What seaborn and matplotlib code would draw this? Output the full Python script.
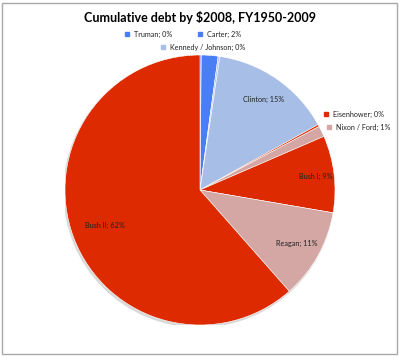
import numpy as np
import matplotlib
matplotlib.use("Agg")
import matplotlib.pyplot as plt
import seaborn as sns
from matplotlib.patches import Rectangle

# share of cumulative debt (in $2008), clockwise from 12 o'clock
presidents = ["Truman", "Carter", "Kennedy / Johnson", "Clinton", "Eisenhower",
              "Nixon / Ford", "Bush I", "Reagan", "Bush II"]
shares = [0.15, 2.0, 0.2, 14.6, 0.25, 1.3, 9.2, 10.8, 61.5]
pct_labels = ["0%", "2%", "0%", "15%", "0%", "1%", "9%", "11%", "62%"]
slice_colors = ["#4a7ef5", "#4a7ef5", "#a7bfe6", "#a7bfe6", "#dd2a00",
                "#d4a6a4", "#dd2a00", "#d4a6a4", "#dd2a00"]

sns.set_theme(style="white")
plt.rcParams["font.family"] = ["Lato", "DejaVu Sans"]

fig = plt.figure(figsize=(4.0, 3.56), dpi=100)
fig.patch.set_facecolor("white")

# pie centre at about (200, 190) px, radius ~135 px
r_px = 135
ax = fig.add_axes([(200 - r_px) / 400, (166 - r_px) / 356, 2 * r_px / 400, 2 * r_px / 356])

# faint shadow under the pie (bottom-left)
shadow = plt.Circle((-0.008, -0.014), 1.0, color="#d9d9d9", zorder=0)
ax.add_patch(shadow)

wedges, _ = ax.pie(shares, colors=slice_colors, startangle=90, counterclock=False,
                   radius=1.0, wedgeprops=dict(edgecolor="white", linewidth=0.4),
                   frame=False)
for w in wedges:
    w.set_zorder(1)

# pie() resets limits to +-1.25, put them back so radius 1 fills the axes
ax.set_xlim(-1, 1)
ax.set_ylim(-1, 1)
ax.axis("off")

font_small = 5.2

# labels inside the big slices
inside = {"Clinton": 0.82, "Bush I": 0.86, "Reagan": 0.82, "Bush II": 0.75}
for w, name, pct in zip(wedges, presidents, pct_labels):
    if name in inside:
        mid = np.deg2rad((w.theta1 + w.theta2) / 2)
        d = inside[name]
        ax.text(d * np.cos(mid), d * np.sin(mid), f"{name}; {pct}",
                ha="center", va="center", fontsize=font_small, color="#222222")

# labels outside for the tiny slices, with legend keys
def px(x, y):
    return (x - 200) / r_px, (190 - y) / r_px

outside = {"Truman": (127, 34), "Carter": (200, 34), "Kennedy / Johnson": (163, 47),
           "Eisenhower": (326, 114), "Nixon / Ford": (329, 127)}
for name, pct, col in zip(presidents, pct_labels, slice_colors):
    if name in outside:
        mx, my = px(*outside[name])
        ax.plot(mx, my, marker="s", markersize=2.6, color=col, clip_on=False,
                linestyle="none")
        ax.text(mx + 7 / r_px, my, f"{name}; {pct}", ha="left", va="center",
                fontsize=font_small, color="#222222", clip_on=False)

fig.text(0.5, 1 - 17 / 356, "Cumulative debt by $2008, FY1950-2009",
         ha="center", va="center", fontsize=9, fontweight="bold", color="black")

# chart border
fig.patches.append(Rectangle((2 / 400, 2 / 356), 395 / 400, 351 / 356,
                             transform=fig.transFigure, fill=False,
                             edgecolor="#a8a8a8", linewidth=1.0))

fig.savefig("out.png", dpi=100, facecolor="white")
